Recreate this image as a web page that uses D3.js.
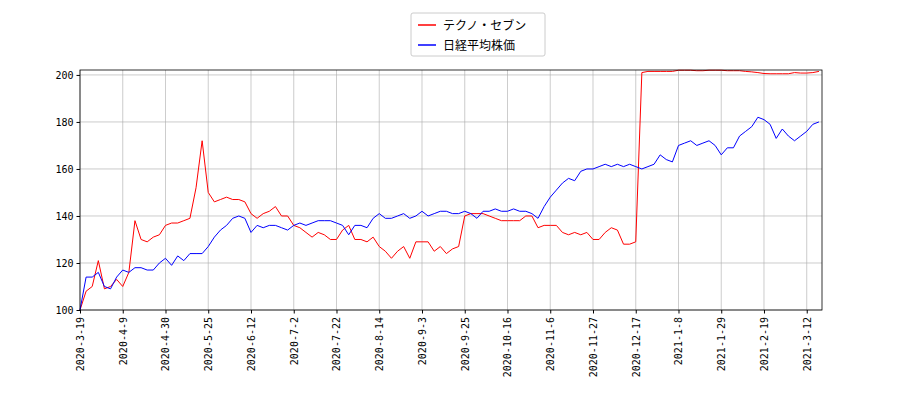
<!DOCTYPE html>
<html><head><meta charset="utf-8">
<script src="https://cdn.jsdelivr.net/npm/d3@7"></script>
<style>body{margin:0;background:#fff}</style></head>
<body><svg id="c" width="900" height="400"></svg>
<script>
const seriesNames = ["テクノ・セブン","日経平均株価"];
const seriesColors = ["#ff0000","#0000ff"];
const techno = [100,108,110,121,109,110,113,110,116,138,130,129,131,132,136,137,137,138,139,152,172,150,146,147,148,147,147,146,141,139,141,142,144,140,140,136,135,133,131,133,132,130,130,134,136,130,130,129,131,127,125,122,125,127,122,129,129,129,125,127,124,126,127,140,141,141,141,140,139,138,138,138,138,140,140,135,136,136,136,133,132,133,132,133,130,130,133,135,134,128,128,129,201,201.5,201.5,201.5,201.5,201.5,202,202,202,201.8,201.8,202,202,202,201.8,201.8,201.8,201.5,201.3,201,200.6,200.5,200.5,200.5,200.5,201,200.8,200.8,201,201.5];
const nikkei = [100,114,114,116,110,109,114,117,116,118,118,117,117,120,122,119,123,121,124,124,124,127,131,134,136,139,140,139,133,136,135,136,136,135,134,136,137,136,137,138,138,138,137,136,132,136,136,135,139,141,139,139,140,141,139,140,142,140,141,142,142,141,141,142,141,139,142,142,143,142,142,143,142,142,141,139,144,148,151,154,156,155,159,160,160,161,162,161,162,161,162,161,160,161,162,166,164,163,170,171,172,170,171,172,170,166,169,169,174,176,178,182,181,179,173,177,174,172,174,176,179,180];
const xTickLabels = ["2020-3-19","2020-4-9","2020-4-30","2020-5-25","2020-6-12","2020-7-2","2020-7-22","2020-8-14","2020-9-3","2020-9-25","2020-10-16","2020-11-6","2020-11-27","2020-12-17","2021-1-8","2021-1-29","2021-2-19","2021-3-12"];
const yTicks = [100,120,140,160,180,200];

const svg = d3.select("#c");
const L=80,R=822,T=70,B=310;
const x = d3.scaleLinear().domain([0,121.5]).range([L,R]);
const y = d3.scaleLinear().domain([100,202.1]).range([B,T]);
const font = "DejaVu Sans Mono, DejaVu Sans, monospace";

const g = svg.append("g");
const xt = xTickLabels.map((_,i)=>i*7);
g.selectAll(".gx").data(xt).enter().append("line")
 .attr("x1",d=>x(d)).attr("x2",d=>x(d)).attr("y1",T).attr("y2",B)
 .attr("stroke","#b0b0b0").attr("stroke-width",0.8).attr("opacity",0.8);
g.selectAll(".gy").data(yTicks).enter().append("line")
 .attr("x1",L).attr("x2",R).attr("y1",d=>y(d)).attr("y2",d=>y(d))
 .attr("stroke","#b0b0b0").attr("stroke-width",0.8).attr("opacity",0.8);

const line = d3.line().x((d,i)=>x(i)).y(d=>y(d));
[techno,nikkei].forEach((s,k)=>{
  svg.append("path").datum(s).attr("d",line).attr("fill","none")
    .attr("stroke",seriesColors[k]).attr("stroke-width",1);
});

svg.append("rect").attr("x",L).attr("y",T).attr("width",R-L).attr("height",B-T)
 .attr("fill","none").attr("stroke","#000").attr("stroke-width",0.8);

const ya = d3.axisLeft(y).tickValues(yTicks).tickSize(3.5).tickPadding(3);
svg.append("g").attr("transform",`translate(${L},0)`).call(ya)
 .call(a=>a.select(".domain").remove())
 .selectAll("text").attr("font-family",font).attr("font-size",10).attr("fill","#000");

const xa = d3.axisBottom(x).tickValues(xt).tickSize(3.5).tickFormat((d,i)=>xTickLabels[i]);
const xg = svg.append("g").attr("transform",`translate(0,${B})`).call(xa);
xg.select(".domain").remove();
xg.selectAll("text").attr("font-family",font).attr("font-size",10).attr("fill","#000")
 .attr("transform","rotate(-90)").attr("text-anchor","end").attr("dx","0").attr("dy","0.35em").attr("x",-7).attr("y",0);

const lg = svg.append("g");
lg.append("rect").attr("x",411).attr("y",13).attr("width",134).attr("height",43)
 .attr("fill","#fff").attr("stroke","#ccc").attr("rx",2);
seriesNames.forEach((n,k)=>{
  const yy = 25+k*20;
  lg.append("line").attr("x1",418).attr("x2",436).attr("y1",yy).attr("y2",yy)
    .attr("stroke",seriesColors[k]).attr("stroke-width",1.5);
  lg.append("text").attr("x",443).attr("y",yy+4.5).text(n)
    .attr("font-family","Noto Sans CJK JP, sans-serif").attr("font-size",12);
});
</script></body></html>
